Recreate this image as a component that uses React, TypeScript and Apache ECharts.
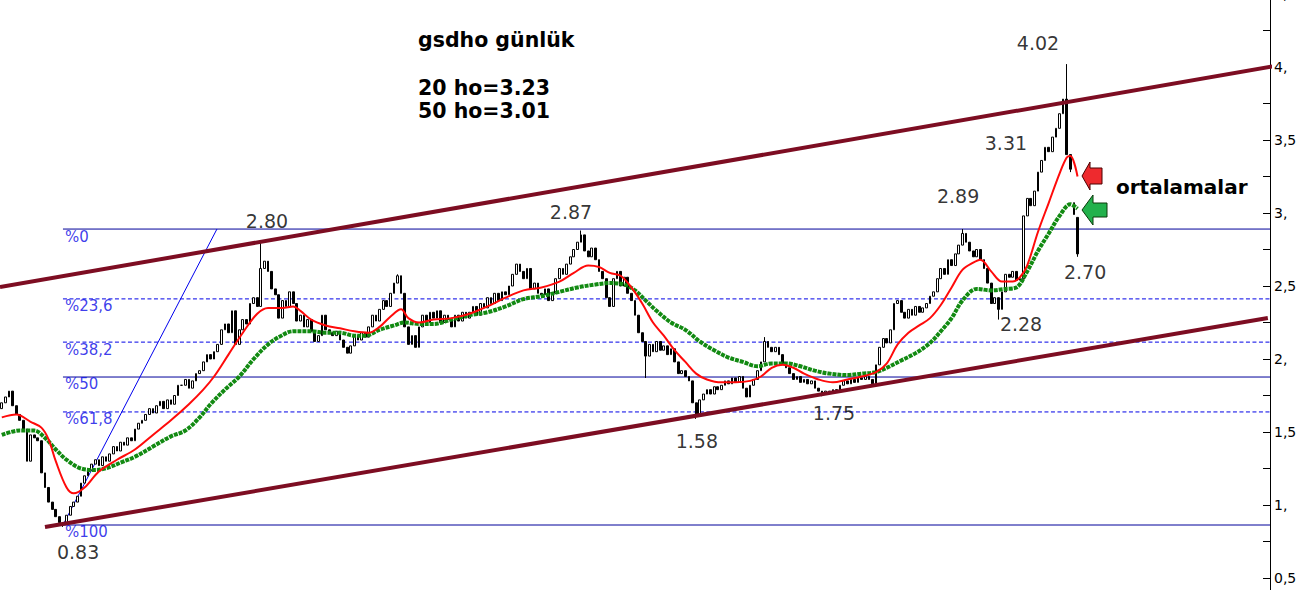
import { useEffect, useRef } from "react";
import * as echarts from "echarts";

// Daily closes (bar index 0..299)
const closes = [
  1.70, 1.74, 1.78, 1.68, 1.62, 1.58, 1.52, 1.30, 1.48, 1.46,
  1.44, 1.22, 1.12, 1.02, 0.97, 0.92, 0.88, 0.87, 0.93, 0.99,
  1.02, 1.06, 1.15, 1.20, 1.24, 1.28, 1.31, 1.27, 1.33, 1.30,
  1.35, 1.40, 1.37, 1.43, 1.41, 1.46, 1.44, 1.52, 1.56, 1.58,
  1.62, 1.66, 1.63, 1.68, 1.71, 1.66, 1.72, 1.69, 1.75, 1.82,
  1.82, 1.86, 1.80, 1.85, 1.90, 1.92, 1.98, 2.03, 2.00, 2.05,
  2.10, 2.20, 2.24, 2.18, 2.33, 2.10, 2.20, 2.27, 2.24, 2.38,
  2.42, 2.36, 2.62, 2.67, 2.60, 2.48, 2.44, 2.28, 2.40, 2.36,
  2.46, 2.38, 2.26, 2.30, 2.22, 2.27, 2.19, 2.12, 2.16, 2.30,
  2.20, 2.18, 2.16, 2.19, 2.13, 2.08, 2.04, 2.09, 2.16, 2.13,
  2.18, 2.15, 2.22, 2.30, 2.26, 2.34, 2.40, 2.36, 2.45, 2.52,
  2.57, 2.45, 2.22, 2.10, 2.16, 2.08, 2.22, 2.30, 2.25, 2.32,
  2.28, 2.33, 2.25, 2.30, 2.27, 2.22, 2.30, 2.26, 2.32, 2.28,
  2.32, 2.36, 2.30, 2.38, 2.35, 2.42, 2.38, 2.45, 2.40, 2.46,
  2.44, 2.50, 2.58, 2.65, 2.60, 2.55, 2.62, 2.48, 2.52, 2.45,
  2.44, 2.48, 2.40, 2.45, 2.55, 2.62, 2.58, 2.65, 2.70, 2.75,
  2.80, 2.85, 2.74, 2.70, 2.76, 2.68, 2.60, 2.55, 2.42, 2.36,
  2.55, 2.60, 2.50, 2.56, 2.45, 2.40, 2.30, 2.18, 2.12, 2.02,
  2.10, 2.05, 2.12, 2.06, 2.09, 2.03, 2.07, 1.98, 1.90, 1.92,
  1.88, 1.85, 1.70, 1.62, 1.72, 1.76, 1.79, 1.76, 1.81, 1.79,
  1.82, 1.85, 1.83, 1.87, 1.84, 1.88, 1.80, 1.74, 1.82, 1.86,
  1.92, 1.98, 2.12, 2.08, 2.05, 2.08, 2.03, 1.97, 1.94, 1.90,
  1.86, 1.88, 1.84, 1.86, 1.83, 1.85, 1.80, 1.78, 1.76, 1.78,
  1.77, 1.79, 1.78, 1.82, 1.85, 1.83, 1.86, 1.84, 1.87, 1.86,
  1.88, 1.86, 1.83, 1.96, 2.08, 2.14, 2.11, 2.20, 2.38, 2.40,
  2.32, 2.28, 2.34, 2.30, 2.36, 2.32, 2.35, 2.38, 2.43, 2.46,
  2.55, 2.62, 2.58, 2.68, 2.64, 2.72, 2.78, 2.86, 2.80, 2.74,
  2.70, 2.75, 2.68, 2.62, 2.52, 2.38, 2.42, 2.34, 2.46, 2.58,
  2.56, 2.60, 2.54, 2.55, 2.98, 3.10, 3.05, 3.15, 3.28, 3.36,
  3.45, 3.42, 3.52, 3.58, 3.68, 3.78, 3.40, 3.30, 2.99, 2.72,
];
const firstOpen = 1.66;
// [bar index, value]
const highMarks: [number, number][] = [
  [72, 2.80], [110, 2.58], [161, 2.88], [212, 2.15], [267, 2.89], [296, 4.02],
];
const lowMarks: [number, number][] = [
  [17, 0.85], [179, 1.87], [193, 1.59], [228, 1.745], [277, 2.27], [297, 3.28], [299, 2.70],
];
const openMarks: [number, number][] = [[298, 3.07], [299, 2.97]];

// 20-day moving average (red), [bar index, value]
const ma20: [number, number][] = [
  [0, 1.60], [4, 1.62], [8, 1.57], [11, 1.53], [13, 1.45], [15, 1.30], [18, 1.12], [20, 1.08],
  [23, 1.12], [27, 1.23], [32, 1.31], [37, 1.38], [42, 1.48], [47, 1.58], [52, 1.69], [56, 1.79],
  [59, 1.88], [63, 2.03], [67, 2.18], [71, 2.31], [74, 2.35], [78, 2.35], [81, 2.36], [83, 2.33],
  [86, 2.27], [90, 2.23], [94, 2.21], [98, 2.19], [102, 2.18], [105, 2.22], [108, 2.29], [111, 2.34],
  [113, 2.28], [116, 2.25], [120, 2.27], [125, 2.28], [130, 2.31], [135, 2.36], [140, 2.42], [145, 2.47],
  [150, 2.49], [155, 2.53], [159, 2.59], [163, 2.64], [166, 2.63], [169, 2.59], [172, 2.57], [175, 2.49],
  [178, 2.38], [181, 2.25], [184, 2.16], [187, 2.06], [190, 1.98], [193, 1.90], [196, 1.86], [200, 1.84],
  [204, 1.84], [208, 1.85], [211, 1.88], [214, 1.94], [217, 1.96], [220, 1.94], [223, 1.90], [227, 1.86],
  [231, 1.84], [235, 1.86], [239, 1.88], [243, 1.91], [246, 1.97], [249, 2.10], [252, 2.18], [255, 2.23],
  [258, 2.28], [261, 2.37], [264, 2.49], [267, 2.61], [270, 2.66], [272, 2.68], [275, 2.60], [278, 2.53],
  [281, 2.53], [283, 2.56], [285, 2.64], [288, 2.87], [291, 3.07], [294, 3.27], [296, 3.38], [297, 3.39],
  [299, 3.25],
];
// 50-day moving average (green), [bar index, value]
const ma50: [number, number][] = [
  [0, 1.48], [5, 1.51], [9, 1.51], [12, 1.46], [15, 1.38], [18, 1.31], [22, 1.25], [26, 1.24],
  [30, 1.26], [33, 1.29], [37, 1.33], [42, 1.40], [47, 1.47], [51, 1.51], [55, 1.60], [58, 1.69],
  [62, 1.79], [66, 1.88], [70, 2.00], [74, 2.10], [77, 2.15], [81, 2.19], [86, 2.19], [90, 2.18],
  [94, 2.18], [98, 2.16], [101, 2.16], [105, 2.20], [109, 2.23], [112, 2.25], [116, 2.24], [120, 2.24],
  [125, 2.27], [130, 2.30], [135, 2.32], [140, 2.36], [145, 2.41], [150, 2.43], [155, 2.46], [160, 2.49],
  [165, 2.51], [169, 2.52], [173, 2.51], [176, 2.47], [179, 2.40], [182, 2.33], [186, 2.25], [190, 2.20],
  [194, 2.12], [198, 2.06], [202, 2.01], [206, 1.98], [210, 1.95], [214, 1.97], [218, 1.97], [222, 1.95],
  [226, 1.92], [230, 1.90], [235, 1.89], [239, 1.90], [243, 1.91], [246, 1.94], [250, 1.99], [254, 2.04],
  [258, 2.11], [261, 2.19], [264, 2.28], [267, 2.40], [271, 2.48], [275, 2.47], [279, 2.48], [282, 2.49],
  [285, 2.60], [288, 2.74], [291, 2.86], [294, 2.98], [297, 3.06], [299, 3.03],
];

// Trend channel end points [bar index, price]
const upperChannel: [number, number][] = [[-0.5, 2.493], [363.6, 4.048]];
const lowerChannel: [number, number][] = [[12.0, 0.849], [351.9, 2.281]];

// Fibonacci retracement anchors [bar index, price]
const fibLow: [number, number] = [17, 0.863];
const fibHigh: [number, number] = [59.8, 2.89];
const fibRatios = [0, 0.236, 0.382, 0.5, 0.618, 1];
const fibLabels = ["%0", "%23,6", "%38,2", "%50", "%61,8", "%100"];
const fibDashed = [false, true, true, false, true, false];

// Price annotations [bar index, price, text]
const notes: [number, number, string][] = [
  [73.7, 2.945, "2.80"], [158.2, 3.007, "2.87"], [21.2, 0.68, "0.83"], [193.2, 1.438, "1.58"],
  [231.3, 1.63, "1.75"], [265.8, 3.116, "2.89"], [279.1, 3.479, "3.31"], [288.0, 4.164, "4.02"],
  [283.3, 2.24, "2.28"], [301.1, 2.596, "2.70"],
];

const CATEGORY_COUNT = 353;
const FONT = '"DejaVu Sans", Verdana, sans-serif';

export default function App() {
  const ref = useRef<HTMLDivElement>(null);
  useEffect(() => {
    if (!ref.current) return;
    const chart = echarts.init(ref.current, undefined, { renderer: "svg" });
    const openMap = new Map(openMarks);
    const highMap = new Map(highMarks);
    const lowMap = new Map(lowMarks);
    const candles = closes.map((c, i) => {
      const o = openMap.has(i) ? (openMap.get(i) as number) : i === 0 ? firstOpen : closes[i - 1];
      let lo = Math.min(o, c);
      let hi = Math.max(o, c);
      if (lowMap.has(i)) lo = Math.min(lo, lowMap.get(i) as number);
      if (highMap.has(i)) hi = Math.max(hi, highMap.get(i) as number);
      return [o, c, lo, hi];
    });
    const cats = Array.from({ length: CATEGORY_COUNT }, (_, i) => String(i));
    const xEnd = CATEGORY_COUNT - 0.5;
    const fibLevels = fibRatios.map((r) => fibHigh[1] - r * (fibHigh[1] - fibLow[1]));

    const fibSeries = fibLevels.map((lvl, k) => ({
      type: "line",
      xAxisIndex: 1,
      data: [[fibLow[0], lvl], [xEnd, lvl]],
      symbol: "none",
      silent: true,
      z: 1,
      lineStyle: fibDashed[k]
        ? { color: "#0000e6", width: 1, type: [4, 2.5] }
        : { color: "#00009a", width: 1, type: "solid" },
    }));

    chart.setOption({
      animation: false,
      backgroundColor: "#ffffff",
      grid: {
        left: 0,
        right: 40,
        top: -6,
        bottom: -24.5,
        containLabel: false,
        outerBoundsMode: "none",
      },
      xAxis: [
        { type: "category", data: cats, show: false, boundaryGap: true },
        { type: "value", min: -0.5, max: xEnd, show: false },
      ],
      yAxis: {
        type: "value",
        position: "right",
        min: 0.25,
        max: 4.5,
        interval: 0.25,
        axisLine: { show: true, onZero: false, lineStyle: { color: "#000", width: 1 } },
        axisTick: { show: true, inside: true, length: 7, lineStyle: { color: "#000", width: 1 } },
        axisLabel: {
          fontSize: 14,
          color: "#000",
          fontFamily: FONT,
          margin: 4,
          formatter: (v: number) => {
            const r = Math.round(v * 100) / 100;
            if (Math.abs(r * 2 - Math.round(r * 2)) > 1e-6) return "";
            if (Number.isInteger(r)) return r + ",";
            return String(r).replace(".", ",");
          },
        },
        splitLine: { show: false },
      },
      series: [
        ...fibSeries,
        {
          type: "line",
          xAxisIndex: 1,
          data: [fibLow, fibHigh],
          symbol: "none",
          silent: true,
          z: 1,
          lineStyle: { color: "#0000ee", width: 1 },
        },
        {
          type: "scatter",
          xAxisIndex: 1,
          symbolSize: 0.1,
          silent: true,
          itemStyle: { color: "transparent" },
          data: fibLevels.map((lvl, k) => ({ value: [fibLow[0], lvl], name: fibLabels[k] })),
          label: {
            show: true,
            position: [2, 0],
            align: "left",
            verticalAlign: "top",
            formatter: "{b}",
            fontSize: 15,
            lineHeight: 15,
            color: "#0a0ae6",
            fontFamily: FONT,
          },
        },
        {
          type: "candlestick",
          xAxisIndex: 0,
          data: candles,
          barWidth: 2.2,
          silent: true,
          itemStyle: {
            color: "#ffffff",
            color0: "#000000",
            borderColor: "#000000",
            borderColor0: "#000000",
            borderWidth: 1,
          },
        },
        {
          type: "line",
          xAxisIndex: 1,
          data: ma50,
          smooth: 0.35,
          symbol: "none",
          silent: true,
          lineStyle: { color: "#128a12", width: 4, type: [4, 1], cap: "butt" },
        },
        {
          type: "line",
          xAxisIndex: 1,
          data: ma20,
          smooth: 0.35,
          symbol: "none",
          silent: true,
          lineStyle: { color: "#ff0a0a", width: 2 },
        },
        {
          type: "line",
          xAxisIndex: 1,
          data: upperChannel,
          symbol: "none",
          clip: false,
          silent: true,
          lineStyle: { color: "#7d0d22", width: 4 },
        },
        {
          type: "line",
          xAxisIndex: 1,
          data: lowerChannel,
          symbol: "none",
          clip: false,
          silent: true,
          lineStyle: { color: "#7d0d22", width: 4 },
        },
        {
          type: "scatter",
          xAxisIndex: 1,
          symbolSize: 0.1,
          silent: true,
          itemStyle: { color: "transparent" },
          data: notes.map((n) => ({ value: [n[0], n[1]], name: n[2] })),
          label: {
            show: true,
            position: "inside",
            formatter: "{b}",
            fontSize: 19,
            lineHeight: 19,
            color: "#000",
            fontFamily: FONT,
          },
        },
      ],
      graphic: [
        {
          type: "text",
          x: 418,
          y: 40,
          z: 100,
          style: { text: "gsdho günlük", font: `bold 20.5px ${FONT}`, fill: "#000", verticalAlign: "middle" },
        },
        {
          type: "text",
          x: 418,
          y: 88,
          z: 100,
          style: { text: "20 ho=3.23", font: `bold 20.5px ${FONT}`, fill: "#000", verticalAlign: "middle" },
        },
        {
          type: "text",
          x: 418,
          y: 111,
          z: 100,
          style: { text: "50 ho=3.01", font: `bold 20.5px ${FONT}`, fill: "#000", verticalAlign: "middle" },
        },
        {
          type: "text",
          x: 1116,
          y: 187,
          z: 100,
          style: { text: "ortalamalar", font: `bold 20px ${FONT}`, fill: "#000", verticalAlign: "middle" },
        },
        {
          type: "polygon",
          z: 100,
          shape: {
            points: [[1082, 176], [1090, 162], [1090, 168], [1102, 168], [1102, 184], [1090, 184], [1090, 190]],
          },
          style: { fill: "#ee2a2e", stroke: "#4a0000", lineWidth: 1 },
        },
        {
          type: "polygon",
          z: 100,
          shape: {
            points: [[1082, 210], [1093, 195], [1093, 203], [1107, 203], [1107, 217], [1093, 217], [1093, 225]],
          },
          style: { fill: "#22b14c", stroke: "#0a3a0a", lineWidth: 1 },
        },
      ],
    });
    return () => chart.dispose();
  }, []);
  return (
    <div
      ref={ref}
      style={{ position: "absolute", left: 0, top: 0, width: 1310, height: 590, background: "#fff" }}
    />
  );
}
